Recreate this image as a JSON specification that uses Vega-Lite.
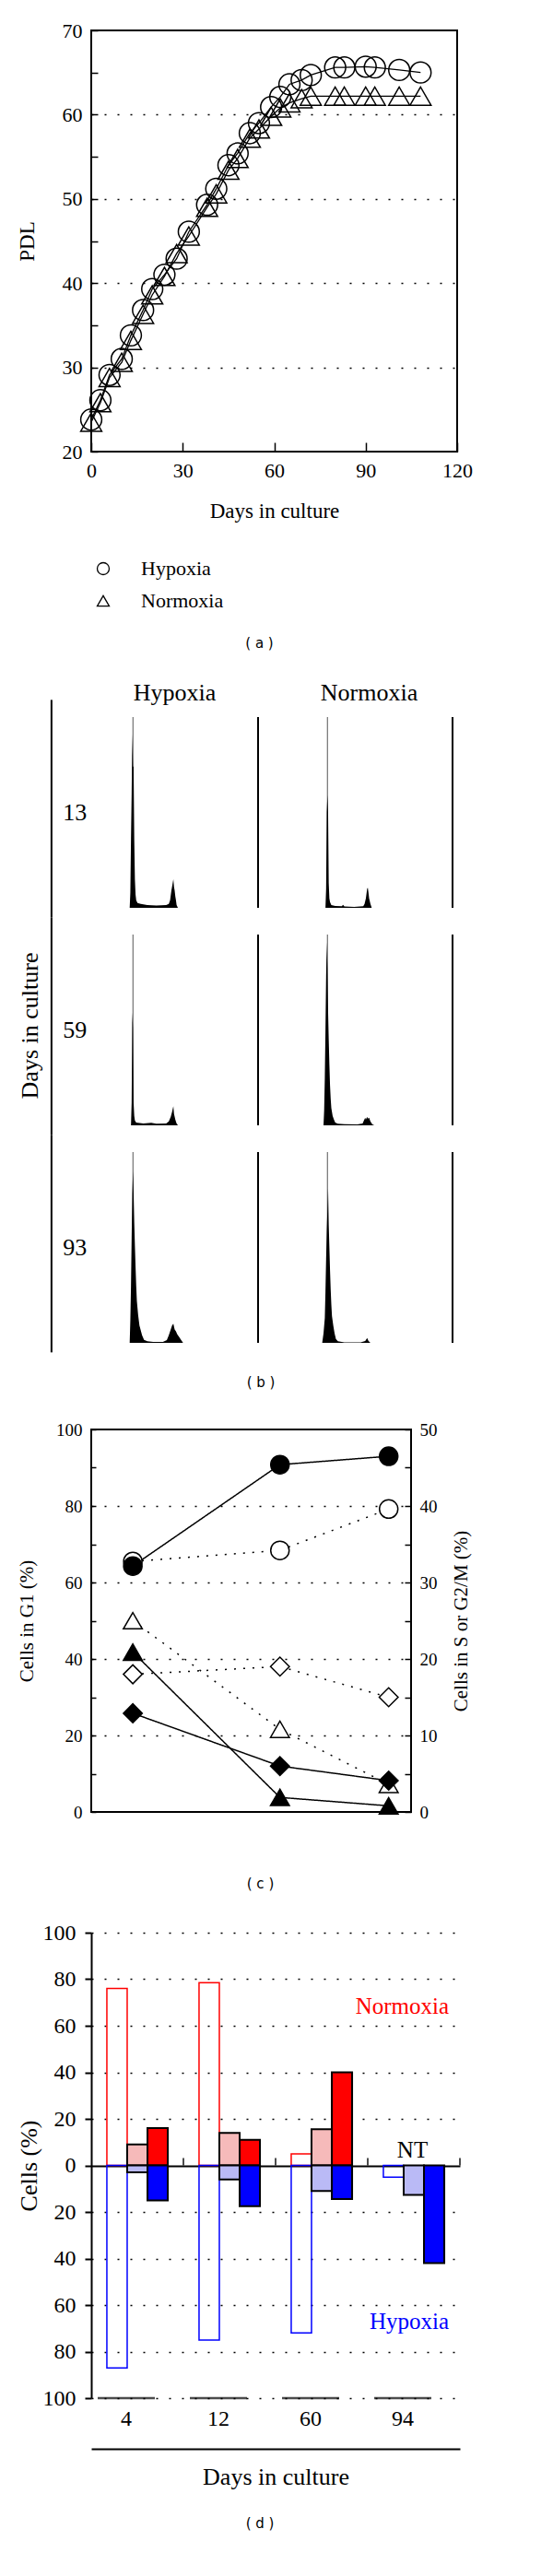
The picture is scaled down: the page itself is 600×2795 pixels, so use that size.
{
  "$schema": "https://vega.github.io/schema/vega-lite/v6.json",
  "background": "white",
  "padding": {"left": 17, "top": 21, "right": 0, "bottom": 0},
  "columns": 1,
  "spacing": 32,
  "resolve": {"scale": {"shape": "independent", "fill": "independent", "size": "independent", "strokeDash": "independent", "color": "independent"}},
  "config": {
    "font": "Liberation Serif",
    "view": {"stroke": null},
    "axis": {"labelFont": "Liberation Serif", "titleFont": "Liberation Serif", "labelColor": "black", "titleColor": "black", "tickColor": "black", "domainColor": "black", "titleFontWeight": "normal"},
    "header": {"labelFont": "Liberation Serif", "labelColor": "black", "titleFont": "Liberation Serif", "titleColor": "black", "titleFontWeight": "normal"},
    "legend": {"labelFont": "Liberation Serif", "labelColor": "black"},
    "title": {"font": "DejaVu Sans", "fontSize": 15, "fontWeight": "normal", "color": "black"},
    "text": {"font": "Liberation Serif"}
  },
  "datasets": {
    "pdl": [
      {"s":"Hypoxia","d":0,"v":23.8},{"s":"Hypoxia","d":3,"v":26.1},{"s":"Hypoxia","d":6,"v":29.1},{"s":"Hypoxia","d":10,"v":31},{"s":"Hypoxia","d":13,"v":33.8},{"s":"Hypoxia","d":17,"v":36.8},{"s":"Hypoxia","d":20,"v":39.3},{"s":"Hypoxia","d":24,"v":41},{"s":"Hypoxia","d":28,"v":42.9},{"s":"Hypoxia","d":32,"v":46.1},{"s":"Hypoxia","d":38,"v":49.3},{"s":"Hypoxia","d":41,"v":51.2},{"s":"Hypoxia","d":45,"v":54},{"s":"Hypoxia","d":48,"v":55.4},{"s":"Hypoxia","d":52,"v":57.8},{"s":"Hypoxia","d":55,"v":59},{"s":"Hypoxia","d":59,"v":60.9},{"s":"Hypoxia","d":62,"v":62.1},{"s":"Hypoxia","d":65,"v":63.6},{"s":"Hypoxia","d":69,"v":64.1},{"s":"Hypoxia","d":72,"v":64.7},{"s":"Hypoxia","d":80,"v":65.6},{"s":"Hypoxia","d":83,"v":65.6},{"s":"Hypoxia","d":90,"v":65.7},{"s":"Hypoxia","d":93,"v":65.6},{"s":"Hypoxia","d":101,"v":65.3},{"s":"Hypoxia","d":108,"v":65},
      {"s":"Normoxia","d":0,"v":23.5},{"s":"Normoxia","d":3,"v":25.8},{"s":"Normoxia","d":6,"v":28.8},{"s":"Normoxia","d":10,"v":30.6},{"s":"Normoxia","d":13,"v":33.2},{"s":"Normoxia","d":17,"v":36.3},{"s":"Normoxia","d":20,"v":38.6},{"s":"Normoxia","d":24,"v":40.8},{"s":"Normoxia","d":28,"v":43.5},{"s":"Normoxia","d":32,"v":45.6},{"s":"Normoxia","d":38,"v":49},{"s":"Normoxia","d":41,"v":50.6},{"s":"Normoxia","d":45,"v":53.4},{"s":"Normoxia","d":48,"v":54.8},{"s":"Normoxia","d":52,"v":57.2},{"s":"Normoxia","d":55,"v":58.3},{"s":"Normoxia","d":59,"v":59.8},{"s":"Normoxia","d":62,"v":60.8},{"s":"Normoxia","d":65,"v":61.4},{"s":"Normoxia","d":69,"v":61.9},{"s":"Normoxia","d":72,"v":62.2},{"s":"Normoxia","d":80,"v":62.2},{"s":"Normoxia","d":83,"v":62.2},{"s":"Normoxia","d":90,"v":62.2},{"s":"Normoxia","d":93,"v":62.2},{"s":"Normoxia","d":101,"v":62.2},{"s":"Normoxia","d":108,"v":62.2}
    ],
    "hist": [
      {"c":"Hypoxia","d":13,"x":0,"y":0},{"c":"Hypoxia","d":13,"x":59,"y":0},{"c":"Hypoxia","d":13,"x":60,"y":8},{"c":"Hypoxia","d":13,"x":61,"y":36},{"c":"Hypoxia","d":13,"x":62,"y":60},{"c":"Hypoxia","d":13,"x":63,"y":91},{"c":"Hypoxia","d":13,"x":64,"y":74},{"c":"Hypoxia","d":13,"x":65,"y":74},{"c":"Hypoxia","d":13,"x":66,"y":36},{"c":"Hypoxia","d":13,"x":67,"y":15},{"c":"Hypoxia","d":13,"x":68,"y":7},{"c":"Hypoxia","d":13,"x":69,"y":4},{"c":"Hypoxia","d":13,"x":71,"y":2.5},{"c":"Hypoxia","d":13,"x":76,"y":2},{"c":"Hypoxia","d":13,"x":86,"y":1.5},{"c":"Hypoxia","d":13,"x":100,"y":1.2},{"c":"Hypoxia","d":13,"x":115,"y":1.4},{"c":"Hypoxia","d":13,"x":119,"y":2},{"c":"Hypoxia","d":13,"x":121,"y":4},{"c":"Hypoxia","d":13,"x":123,"y":9},{"c":"Hypoxia","d":13,"x":124,"y":11},{"c":"Hypoxia","d":13,"x":126,"y":15},{"c":"Hypoxia","d":13,"x":127,"y":11},{"c":"Hypoxia","d":13,"x":128,"y":9},{"c":"Hypoxia","d":13,"x":129,"y":6},{"c":"Hypoxia","d":13,"x":130,"y":4},{"c":"Hypoxia","d":13,"x":131,"y":1.5},{"c":"Hypoxia","d":13,"x":133,"y":0},{"c":"Hypoxia","d":13,"x":256,"y":0},
      {"c":"Normoxia","d":13,"x":0,"y":0},{"c":"Normoxia","d":13,"x":61,"y":0},{"c":"Normoxia","d":13,"x":62,"y":10},{"c":"Normoxia","d":13,"x":63,"y":50},{"c":"Normoxia","d":13,"x":64,"y":59},{"c":"Normoxia","d":13,"x":65,"y":51},{"c":"Normoxia","d":13,"x":66,"y":13},{"c":"Normoxia","d":13,"x":67,"y":5},{"c":"Normoxia","d":13,"x":68,"y":3},{"c":"Normoxia","d":13,"x":70,"y":1.5},{"c":"Normoxia","d":13,"x":76,"y":1},{"c":"Normoxia","d":13,"x":86,"y":0.8},{"c":"Normoxia","d":13,"x":88,"y":1.6},{"c":"Normoxia","d":13,"x":90,"y":0.7},{"c":"Normoxia","d":13,"x":105,"y":0.5},{"c":"Normoxia","d":13,"x":119,"y":0.8},{"c":"Normoxia","d":13,"x":121,"y":2},{"c":"Normoxia","d":13,"x":123,"y":5},{"c":"Normoxia","d":13,"x":125,"y":10},{"c":"Normoxia","d":13,"x":126,"y":10.5},{"c":"Normoxia","d":13,"x":127,"y":8},{"c":"Normoxia","d":13,"x":128,"y":5},{"c":"Normoxia","d":13,"x":130,"y":2},{"c":"Normoxia","d":13,"x":132,"y":0},{"c":"Normoxia","d":13,"x":256,"y":0},
      {"c":"Hypoxia","d":59,"x":0,"y":0},{"c":"Hypoxia","d":59,"x":61,"y":0},{"c":"Hypoxia","d":59,"x":62,"y":12},{"c":"Hypoxia","d":59,"x":63,"y":59},{"c":"Hypoxia","d":59,"x":64,"y":51},{"c":"Hypoxia","d":59,"x":65,"y":12},{"c":"Hypoxia","d":59,"x":66,"y":5},{"c":"Hypoxia","d":59,"x":67,"y":2.5},{"c":"Hypoxia","d":59,"x":69,"y":1.5},{"c":"Hypoxia","d":59,"x":80,"y":1},{"c":"Hypoxia","d":59,"x":92,"y":1.3},{"c":"Hypoxia","d":59,"x":100,"y":0.8},{"c":"Hypoxia","d":59,"x":115,"y":1},{"c":"Hypoxia","d":59,"x":119,"y":2},{"c":"Hypoxia","d":59,"x":122,"y":4.5},{"c":"Hypoxia","d":59,"x":124,"y":7},{"c":"Hypoxia","d":59,"x":126,"y":10},{"c":"Hypoxia","d":59,"x":127,"y":6},{"c":"Hypoxia","d":59,"x":129,"y":3},{"c":"Hypoxia","d":59,"x":131,"y":1},{"c":"Hypoxia","d":59,"x":133,"y":0},{"c":"Hypoxia","d":59,"x":256,"y":0},
      {"c":"Normoxia","d":59,"x":0,"y":0},{"c":"Normoxia","d":59,"x":58,"y":0},{"c":"Normoxia","d":59,"x":59,"y":8},{"c":"Normoxia","d":59,"x":60,"y":25},{"c":"Normoxia","d":59,"x":61,"y":50},{"c":"Normoxia","d":59,"x":62,"y":78},{"c":"Normoxia","d":59,"x":63,"y":96},{"c":"Normoxia","d":59,"x":64,"y":82},{"c":"Normoxia","d":59,"x":65,"y":60},{"c":"Normoxia","d":59,"x":66,"y":45},{"c":"Normoxia","d":59,"x":67,"y":32},{"c":"Normoxia","d":59,"x":68,"y":21},{"c":"Normoxia","d":59,"x":69,"y":14},{"c":"Normoxia","d":59,"x":70,"y":9},{"c":"Normoxia","d":59,"x":72,"y":5},{"c":"Normoxia","d":59,"x":74,"y":3},{"c":"Normoxia","d":59,"x":76,"y":1.5},{"c":"Normoxia","d":59,"x":80,"y":0.8},{"c":"Normoxia","d":59,"x":90,"y":0.6},{"c":"Normoxia","d":59,"x":110,"y":0.5},{"c":"Normoxia","d":59,"x":118,"y":1},{"c":"Normoxia","d":59,"x":120,"y":2.5},{"c":"Normoxia","d":59,"x":122,"y":4},{"c":"Normoxia","d":59,"x":123,"y":3},{"c":"Normoxia","d":59,"x":125,"y":4.5},{"c":"Normoxia","d":59,"x":126,"y":3.5},{"c":"Normoxia","d":59,"x":128,"y":4},{"c":"Normoxia","d":59,"x":130,"y":2},{"c":"Normoxia","d":59,"x":133,"y":0.5},{"c":"Normoxia","d":59,"x":136,"y":0},{"c":"Normoxia","d":59,"x":256,"y":0},
      {"c":"Hypoxia","d":93,"x":0,"y":0},{"c":"Hypoxia","d":93,"x":59,"y":0},{"c":"Hypoxia","d":93,"x":60,"y":12},{"c":"Hypoxia","d":93,"x":61,"y":30},{"c":"Hypoxia","d":93,"x":62,"y":55},{"c":"Hypoxia","d":93,"x":63,"y":78},{"c":"Hypoxia","d":93,"x":64,"y":90},{"c":"Hypoxia","d":93,"x":65,"y":79},{"c":"Hypoxia","d":93,"x":66,"y":63},{"c":"Hypoxia","d":93,"x":67,"y":51},{"c":"Hypoxia","d":93,"x":68,"y":40},{"c":"Hypoxia","d":93,"x":69,"y":30},{"c":"Hypoxia","d":93,"x":70,"y":22},{"c":"Hypoxia","d":93,"x":72,"y":14.5},{"c":"Hypoxia","d":93,"x":74,"y":9},{"c":"Hypoxia","d":93,"x":76,"y":6.5},{"c":"Hypoxia","d":93,"x":78,"y":4},{"c":"Hypoxia","d":93,"x":81,"y":1.6},{"c":"Hypoxia","d":93,"x":86,"y":0.8},{"c":"Hypoxia","d":93,"x":95,"y":0.5},{"c":"Hypoxia","d":93,"x":110,"y":0.5},{"c":"Hypoxia","d":93,"x":116,"y":1.5},{"c":"Hypoxia","d":93,"x":119,"y":4},{"c":"Hypoxia","d":93,"x":122,"y":7},{"c":"Hypoxia","d":93,"x":124,"y":9},{"c":"Hypoxia","d":93,"x":126,"y":10},{"c":"Hypoxia","d":93,"x":128,"y":7},{"c":"Hypoxia","d":93,"x":130,"y":6},{"c":"Hypoxia","d":93,"x":132,"y":4.5},{"c":"Hypoxia","d":93,"x":135,"y":3},{"c":"Hypoxia","d":93,"x":138,"y":1.5},{"c":"Hypoxia","d":93,"x":141,"y":0},{"c":"Hypoxia","d":93,"x":256,"y":0},
      {"c":"Normoxia","d":93,"x":0,"y":0},{"c":"Normoxia","d":93,"x":56,"y":0},{"c":"Normoxia","d":93,"x":58,"y":5},{"c":"Normoxia","d":93,"x":60,"y":13},{"c":"Normoxia","d":93,"x":61,"y":27},{"c":"Normoxia","d":93,"x":62,"y":44},{"c":"Normoxia","d":93,"x":63,"y":59},{"c":"Normoxia","d":93,"x":64,"y":70},{"c":"Normoxia","d":93,"x":65,"y":81},{"c":"Normoxia","d":93,"x":66,"y":62},{"c":"Normoxia","d":93,"x":67,"y":50},{"c":"Normoxia","d":93,"x":68,"y":38},{"c":"Normoxia","d":93,"x":69,"y":28},{"c":"Normoxia","d":93,"x":70,"y":20},{"c":"Normoxia","d":93,"x":71,"y":14},{"c":"Normoxia","d":93,"x":73,"y":9},{"c":"Normoxia","d":93,"x":75,"y":5},{"c":"Normoxia","d":93,"x":77,"y":2},{"c":"Normoxia","d":93,"x":80,"y":0.8},{"c":"Normoxia","d":93,"x":90,"y":0.3},{"c":"Normoxia","d":93,"x":115,"y":0.3},{"c":"Normoxia","d":93,"x":122,"y":1},{"c":"Normoxia","d":93,"x":125,"y":2.5},{"c":"Normoxia","d":93,"x":127,"y":1},{"c":"Normoxia","d":93,"x":130,"y":0},{"c":"Normoxia","d":93,"x":256,"y":0}
    ],
    "cycle": [
      {"p":"G1","c":"Normoxia","d":13,"v":65.5},{"p":"G1","c":"Normoxia","d":59,"v":68.4},{"p":"G1","c":"Normoxia","d":93,"v":79.2},
      {"p":"G1","c":"Hypoxia","d":13,"v":64.3},{"p":"G1","c":"Hypoxia","d":59,"v":90.8},{"p":"G1","c":"Hypoxia","d":93,"v":93},
      {"p":"S","c":"Normoxia","d":13,"v":25},{"p":"S","c":"Normoxia","d":59,"v":10.8},{"p":"S","c":"Normoxia","d":93,"v":3.6},
      {"p":"G2M","c":"Normoxia","d":13,"v":18},{"p":"G2M","c":"Normoxia","d":59,"v":19},{"p":"G2M","c":"Normoxia","d":93,"v":15},
      {"p":"S","c":"Hypoxia","d":13,"v":20.9},{"p":"S","c":"Hypoxia","d":59,"v":1.9},{"p":"S","c":"Hypoxia","d":93,"v":0.8},
      {"p":"G2M","c":"Hypoxia","d":13,"v":12.9},{"p":"G2M","c":"Hypoxia","d":59,"v":6},{"p":"G2M","c":"Hypoxia","d":93,"v":4.1}
    ],
    "bars": [
      {"g":4,"cond":"Normoxia","t":"open","v":76},{"g":4,"cond":"Normoxia","t":"dotted","v":9},{"g":4,"cond":"Normoxia","t":"solid","v":16},
      {"g":12,"cond":"Normoxia","t":"open","v":78.5},{"g":12,"cond":"Normoxia","t":"dotted","v":14},{"g":12,"cond":"Normoxia","t":"solid","v":11},
      {"g":60,"cond":"Normoxia","t":"open","v":5},{"g":60,"cond":"Normoxia","t":"dotted","v":15.5},{"g":60,"cond":"Normoxia","t":"solid","v":40},
      {"g":4,"cond":"Hypoxia","t":"open","v":-87},{"g":4,"cond":"Hypoxia","t":"dotted","v":-3},{"g":4,"cond":"Hypoxia","t":"solid","v":-15},
      {"g":12,"cond":"Hypoxia","t":"open","v":-75},{"g":12,"cond":"Hypoxia","t":"dotted","v":-6},{"g":12,"cond":"Hypoxia","t":"solid","v":-17.5},
      {"g":60,"cond":"Hypoxia","t":"open","v":-72},{"g":60,"cond":"Hypoxia","t":"dotted","v":-11},{"g":60,"cond":"Hypoxia","t":"solid","v":-14.5},
      {"g":94,"cond":"Hypoxia","t":"open","v":-5},{"g":94,"cond":"Hypoxia","t":"dotted","v":-12.7},{"g":94,"cond":"Hypoxia","t":"solid","v":-42},
      {"g":94,"cond":"Normoxia","label":"Normoxia","v":68.5},
      {"g":94,"cond":"none","label":"NT","v":6.7},
      {"g":94,"cond":"Hypoxia","label":"Hypoxia","v":-67}
    ]
  },
  "concat": [
    {
      "width": 397,
      "height": 457,
      "view": {"stroke": "black", "strokeWidth": 2},
      "title": {"text": "( a )", "orient": "bottom", "frame": "group", "anchor": "middle", "offset": 28, "dx": -16},
      "data": {"name": "pdl"},
      "encoding": {
        "x": {"field": "d", "type": "quantitative", "scale": {"domain": [0, 120], "nice": false},
          "axis": {"values": [0, 30, 60, 90, 120], "domain": false, "grid": false, "tickSize": -10, "tickWidth": 1.5, "labelFontSize": 22, "labelPadding": 20, "labelFlush": false, "title": "Days in culture", "titleFontSize": 23, "titlePadding": 22}},
        "y": {"field": "v", "type": "quantitative", "scale": {"domain": [20, 70], "nice": false, "zero": false},
          "axis": {"values": [20, 25, 30, 35, 40, 45, 50, 55, 60, 65, 70], "domain": false, "tickSize": -7, "tickWidth": 1.5,
            "labelExpr": "datum.value % 10 === 0 ? datum.label : ''", "labelFontSize": 22, "labelPadding": 17,
            "grid": true, "gridColor": "black", "gridWidth": 1.5, "gridDash": [2, 12],
            "gridOpacity": {"condition": {"test": "datum.value % 10 !== 0 || datum.value === 20 || datum.value === 70", "value": 0}, "value": 1},
            "title": "PDL", "titleFontSize": 23, "titlePadding": 26}}
      },
      "layer": [
        {"mark": {"type": "line", "color": "black", "strokeWidth": 1.3}, "encoding": {"detail": {"field": "s", "type": "nominal"}}},
        {"mark": {"type": "point", "filled": false, "stroke": "black", "strokeWidth": 1.5, "opacity": 1, "size": 520},
          "encoding": {
            "shape": {"field": "s", "type": "nominal", "scale": {"domain": ["Hypoxia", "Normoxia"], "range": ["circle", "triangle-up"]},
              "legend": {"orient": "none", "legendX": 2, "legendY": 573, "title": null, "direction": "vertical", "padding": 0, "symbolSize": 169, "symbolStrokeWidth": 1.3, "symbolStrokeColor": "black", "symbolFillColor": "transparent", "labelFontSize": 22, "labelOffset": 30, "rowPadding": 13, "labelColor": "black",
                "encode": {"symbols": {"update": {"shape": {"signal": "datum.value === 'Hypoxia' ? 'M-2.5,0H-1.45M1.45,0H2.5M-1,0A1,1,0,1,0,1,0A1,1,0,1,0,-1,0M-1,0H1' : 'M-2.5,0.35H-1.55M1.55,0.35H2.5M0,-1.45L1.5,1.25H-1.5Z'"}}}}}}
          }}
      ]
    },
    {
      "data": {"name": "hist"},
      "title": {"text": "( b )", "orient": "bottom", "anchor": "middle", "offset": 25, "dx": 27},
      "facet": {
        "row": {"field": "d", "type": "ordinal", "title": "Days in culture", "header": {"labels": false, "titleOrient": "left", "titleAngle": 270, "titleFontSize": 26, "titlePadding": 17}},
        "column": {"field": "c", "type": "nominal", "title": null, "header": {"labelFontSize": 26, "labelPadding": 13}}
      },
      "bounds": "flush",
      "spacing": {"row": 29, "column": 30},
      "resolve": {"axis": {"x": "independent", "y": "independent"}},
      "spec": {
        "width": 181,
        "height": 207,
        "layer": [
          {"transform": [{"filter": "datum.x === 0"}], "mark": {"type": "rule", "color": "#555555", "strokeWidth": 1}, "encoding": {"x": {"datum": 64, "type": "quantitative", "axis": null}}},
          {"mark": {"type": "area", "color": "black"},
            "encoding": {
              "x": {"field": "x", "type": "quantitative", "scale": {"domain": [0, 256], "nice": false},
                "axis": {"domain": true, "domainWidth": 2, "ticks": true, "tickCount": 26, "tickSize": 4, "tickWidth": 1.3, "labels": false, "grid": false, "title": null}},
              "y": {"field": "y", "type": "quantitative", "scale": {"domain": [0, 100], "nice": false},
                "axis": {"domain": true, "domainWidth": 2, "ticks": true, "tickCount": 65, "tickSize": 4, "tickWidth": 1.3, "labels": false, "grid": false, "title": null}}
            }},
          {"transform": [{"filter": "datum.x === 0"}], "mark": {"type": "rule", "color": "black", "strokeWidth": 2}, "encoding": {"x": {"datum": 256, "type": "quantitative", "axis": null}}},
          {"transform": [{"filter": "datum.x === 0 && datum.c === 'Hypoxia'"}], "mark": {"type": "rule", "color": "black", "strokeWidth": 2, "clip": false},
            "encoding": {"x": {"datum": -61, "type": "quantitative", "axis": null}, "y": {"datum": -5, "type": "quantitative", "axis": null}, "y2": {"datum": 109}}},
          {"transform": [{"filter": "datum.x === 0 && datum.c === 'Hypoxia'"}], "mark": {"type": "text", "fontSize": 26, "align": "center", "baseline": "middle", "clip": false, "color": "black"},
            "encoding": {"x": {"datum": -25, "type": "quantitative", "axis": null}, "y": {"datum": 50, "type": "quantitative", "axis": null}, "text": {"field": "d", "type": "nominal"}}}
        ]
      }
    },
    {
      "width": 347,
      "height": 415,
      "view": {"stroke": "black", "strokeWidth": 2},
      "title": {"text": "( c )", "orient": "bottom", "frame": "group", "anchor": "middle", "offset": 61, "dx": 10},
      "data": {"name": "cycle"},
      "resolve": {"scale": {"y": "independent"}},
      "layer": [
        {
          "transform": [{"filter": "datum.p === 'G1'"}],
          "encoding": {
            "x": {"field": "d", "type": "quantitative", "scale": {"domain": [0, 100], "nice": false},
              "axis": {"values": [0, 20, 40, 60, 80, 100], "domain": false, "grid": false, "tickSize": -7, "tickWidth": 1.5, "labelFontSize": 19, "labelPadding": 17, "labelFlush": false, "title": "Days in culture", "titleFontSize": 21, "titlePadding": 16}},
            "y": {"field": "v", "type": "quantitative", "scale": {"domain": [0, 100], "nice": false},
              "axis": {"values": [0, 10, 20, 30, 40, 50, 60, 70, 80, 90, 100], "domain": false, "tickSize": -5, "tickWidth": 1.5,
                "labelExpr": "datum.value % 20 === 0 ? datum.label : ''", "labelFontSize": 19, "labelPadding": 15,
                "grid": true, "gridColor": "black", "gridWidth": 1.5, "gridDash": [2, 12],
                "gridOpacity": {"condition": {"test": "datum.value % 20 !== 0 || datum.value === 0 || datum.value === 100", "value": 0}, "value": 1},
                "title": "Cells in G1 (%)", "titleFontSize": 21, "titlePadding": 21}}
          },
          "layer": [
            {"mark": {"type": "line", "color": "black", "strokeWidth": 1.5},
              "encoding": {"strokeDash": {"field": "c", "type": "nominal", "scale": {"domain": ["Hypoxia", "Normoxia"], "range": [[1, 0], [2, 8]]}, "legend": null}}},
            {"mark": {"type": "point", "shape": "circle", "filled": true, "size": 400, "stroke": "black", "strokeWidth": 1.5, "opacity": 1},
              "encoding": {"fill": {"field": "c", "type": "nominal", "scale": {"domain": ["Hypoxia", "Normoxia"], "range": ["black", "white"]}, "legend": null}}}
          ]
        },
        {
          "transform": [{"filter": "datum.p !== 'G1'"}],
          "encoding": {
            "x": {"field": "d", "type": "quantitative", "axis": null},
            "y": {"field": "v", "type": "quantitative", "scale": {"domain": [0, 50], "nice": false},
              "axis": {"orient": "right", "values": [0, 5, 10, 15, 20, 25, 30, 35, 40, 45, 50], "domain": false, "tickSize": -7, "tickWidth": 1.5,
                "labelExpr": "datum.value % 10 === 0 ? datum.label : ''", "labelFontSize": 19, "labelPadding": 16, "grid": false,
                "title": "Cells in S or G2/M (%)", "titleFontSize": 21, "titlePadding": 15, "titleAngle": 270, "titleBaseline": "top"}}
          },
          "layer": [
            {"mark": {"type": "line", "color": "black", "strokeWidth": 1.5},
              "encoding": {"strokeDash": {"field": "c", "type": "nominal", "scale": {"domain": ["Hypoxia", "Normoxia"], "range": [[1, 0], [2, 8]]}, "legend": null}, "detail": {"field": "p", "type": "nominal"}}},
            {"mark": {"type": "point", "filled": true, "size": 420, "stroke": "black", "strokeWidth": 1.5, "opacity": 1},
              "encoding": {
                "shape": {"field": "p", "type": "nominal", "scale": {"domain": ["S", "G2M"], "range": ["triangle-up", "diamond"]}, "legend": null},
                "fill": {"field": "c", "type": "nominal", "scale": {"domain": ["Hypoxia", "Normoxia"], "range": ["black", "white"]}, "legend": null}}}
          ]
        }
      ]
    },
    {
      "width": 400,
      "height": 505,
      "title": {"text": "( d )", "orient": "bottom", "frame": "group", "anchor": "middle", "offset": 31, "dx": -17},
      "data": {"name": "bars"},
      "encoding": {
        "x": {"field": "g", "type": "ordinal", "scale": {"paddingInner": 0, "paddingOuter": 0},
          "axis": {"orient": "bottom", "offset": 55, "domain": true, "domainWidth": 2, "ticks": false, "labelFontSize": 24, "labelPadding": -45, "labelOffset": -12, "labelAngle": 0, "grid": false, "title": "Days in culture", "titleFontSize": 26, "titlePadding": 17}},
        "y": {"field": "v", "type": "quantitative", "stack": null, "scale": {"domain": [-100, 100], "nice": false},
          "axis": {"values": [-100, -80, -60, -40, -20, 0, 20, 40, 60, 80, 100], "labelExpr": "format(abs(datum.value), 'd')", "domain": true, "domainWidth": 2, "tickSize": 7, "tickWidth": 2,
            "labelFontSize": 24, "labelPadding": 10, "grid": true, "gridColor": "black",
            "gridWidth": {"condition": {"test": "datum.value === 0", "value": 2}, "value": 1.5},
            "gridDash": {"condition": {"test": "datum.value === 0", "value": [1, 0]}, "value": [2, 12]},
            "title": "Cells (%)", "titleFontSize": 26, "titlePadding": 2}}
      },
      "layer": [
        {
          "transform": [{"filter": "isValid(datum.t)"}],
          "mark": {"type": "bar"},
          "encoding": {
            "xOffset": {"field": "t", "type": "nominal", "sort": ["open", "dotted", "solid"], "scale": {"paddingInner": 0, "paddingOuter": 0.77}},
            "fill": {"condition": [
                {"test": "datum.t === 'open'", "value": "transparent"},
                {"test": "datum.t === 'dotted' && datum.cond === 'Normoxia'", "value": "#f6baba"},
                {"test": "datum.t === 'dotted'", "value": "#babaf6"},
                {"test": "datum.cond === 'Normoxia'", "value": "#ff0000"}],
              "value": "#0000ff"},
            "stroke": {"condition": [
                {"test": "datum.t === 'open' && datum.cond === 'Normoxia'", "value": "#ff0000"},
                {"test": "datum.t === 'open'", "value": "#0000ff"}],
              "value": "black"},
            "strokeWidth": {"condition": {"test": "datum.t === 'open'", "value": 1.5}, "value": 2}
          }
        },
        {
          "transform": [{"filter": "datum.t === 'open' && datum.cond === 'Hypoxia'"}],
          "mark": {"type": "tick", "orient": "vertical", "color": "black", "thickness": 2, "size": 8, "xOffset": 50},
          "encoding": {
            "y": {"datum": 1.6, "type": "quantitative",
              "axis": {"values": [-100, -80, -60, -40, -20, 0, 20, 40, 60, 80, 100], "labelExpr": "format(abs(datum.value), 'd')", "domain": true, "domainWidth": 2, "tickSize": 7, "tickWidth": 2,
                "labelFontSize": 24, "labelPadding": 10, "grid": true, "gridColor": "black",
                "gridWidth": {"condition": {"test": "datum.value === 0", "value": 2}, "value": 1.5},
                "gridDash": {"condition": {"test": "datum.value === 0", "value": [1, 0]}, "value": [2, 12]},
                "title": "Cells (%)", "titleFontSize": 26, "titlePadding": 2}}
          }
        },
        {
          "transform": [{"filter": "datum.t === 'open' && datum.cond === 'Hypoxia'"}],
          "mark": {"type": "tick", "color": "black", "thickness": 2.5, "size": 62, "xOffset": -12},
          "encoding": {
            "y": {"datum": -100, "type": "quantitative",
              "axis": {"values": [-100, -80, -60, -40, -20, 0, 20, 40, 60, 80, 100], "labelExpr": "format(abs(datum.value), 'd')", "domain": true, "domainWidth": 2, "tickSize": 7, "tickWidth": 2,
                "labelFontSize": 24, "labelPadding": 10, "grid": true, "gridColor": "black",
                "gridWidth": {"condition": {"test": "datum.value === 0", "value": 2}, "value": 1.5},
                "gridDash": {"condition": {"test": "datum.value === 0", "value": [1, 0]}, "value": [2, 12]},
                "title": "Cells (%)", "titleFontSize": 26, "titlePadding": 2}}
          }
        },
        {
          "transform": [{"filter": "datum.label === 'Normoxia' || datum.label === 'Hypoxia'"}],
          "mark": {"type": "text", "align": "right", "baseline": "middle", "dx": 38, "fontSize": 25},
          "encoding": {
            "text": {"field": "label", "type": "nominal"},
            "color": {"field": "cond", "type": "nominal", "scale": {"domain": ["Normoxia", "Hypoxia"], "range": ["#ff0000", "#0000ff"]}, "legend": null}
          }
        },
        {
          "transform": [{"filter": "datum.label === 'NT'"}],
          "mark": {"type": "text", "align": "center", "baseline": "middle", "dx": -1.5, "fontSize": 25, "color": "black"},
          "encoding": {"text": {"field": "label", "type": "nominal"}}
        }
      ]
    }
  ]
}
